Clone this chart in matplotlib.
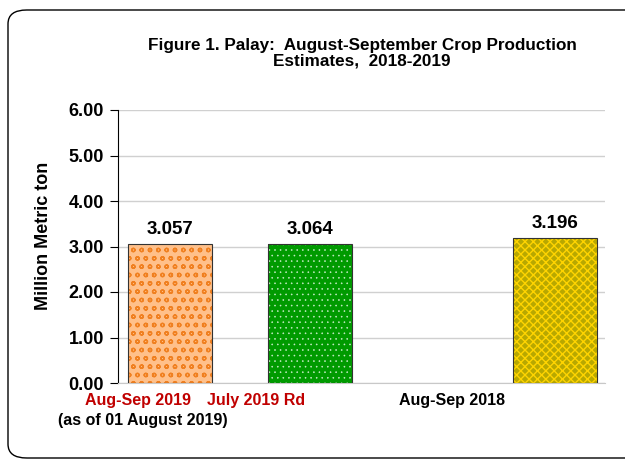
import matplotlib
matplotlib.use("Agg")
import matplotlib.pyplot as plt
from matplotlib.patches import FancyBboxPatch

plt.rcParams['font.family'] = ['Liberation Sans', 'DejaVu Sans']
plt.rcParams['font.weight'] = 'bold'

# data
categories = ["Aug-Sep 2019", "July 2019 Rd", "Aug-Sep 2018"]
sublabels = ["(as of 01 August 2019)", "", ""]
values = [3.057, 3.064, 3.196]
positions = [0, 1, 2.75]
label_colors = ["#C00000", "#C00000", "black"]
yticks = [0, 1, 2, 3, 4, 5, 6]

faces = ["#FFC08A", "#009A00", "#B8A800"]
hatch_cols = ["#F08020", "#C8ECC8", "#FFD400"]
hatches = ["oo", "...", "xxxx"]
hatch_lw = [1.0, 0.4, 1.0]

fig = plt.figure(figsize=(6.25, 4.63), dpi=100)
ax = fig.add_axes([118/625, 1 - 383/463, (605-118)/625, (383-110)/463])

# rounded frame
frame = FancyBboxPatch((8/625, 5/463), 1.05, 448/463,
                       boxstyle="round,pad=0,rounding_size=0.03",
                       transform=fig.transFigure, fill=False,
                       edgecolor="black", linewidth=1.0, clip_on=False)
fig.patches.append(frame)

for x, v, fc, hc, h, hl in zip(positions, values, faces, hatch_cols, hatches, hatch_lw):
    plt.rcParams['hatch.linewidth'] = hl
    ax.bar(x, v, width=0.6, color=fc, edgecolor=hc, hatch=h, linewidth=0, zorder=3)
    ax.bar(x, v, width=0.6, fill=False, edgecolor="#333333", linewidth=0.8, zorder=4)
    ax.text(x, v + 0.12, f"{v:.3f}", ha="center", va="bottom",
            fontsize=13.5, fontweight="bold", zorder=5)

ax.set_xlim(-0.368, 3.11)
ax.set_ylim(0, 6)
ax.set_yticks(yticks)
ax.set_yticklabels([f"{t:.2f}" for t in yticks], fontsize=13, fontweight="bold")
ax.tick_params(axis="y", direction="out", length=6, width=0.8, pad=4)
ax.set_xticks([])
ax.yaxis.grid(True, color="#D0D0D0", linewidth=1.0, zorder=0)
ax.set_axisbelow(True)
for s in ["top", "right"]:
    ax.spines[s].set_visible(False)
ax.spines["bottom"].set_color("#C8C8C8")
ax.spines["left"].set_color("black")
ax.spines["left"].set_linewidth(0.8)

ax.set_ylabel("Million Metric ton", fontsize=13, fontweight="bold")
ax.yaxis.set_label_coords(-0.135, 0.54)

# category labels (placed as in the original, left of bar centres)
label_x = [138, 256, 452]
for lx, c, sub, col in zip(label_x, categories, sublabels, label_colors):
    fig.text(lx/625, 1 - 400/463, c, ha="center", va="center",
             fontsize=11.5, fontweight="bold", color=col)
    if sub:
        fig.text(143/625, 1 - 421/463, sub, ha="center", va="center",
                 fontsize=11.5, fontweight="bold", color="black")

fig.text(362/625, 1 - 53/463,
         "Figure 1. Palay:  August-September Crop Production\nEstimates,  2018-2019",
         ha="center", va="center", fontsize=12.3, fontweight="bold",
         linespacing=1.0)

fig.savefig("out.png", dpi=100)
